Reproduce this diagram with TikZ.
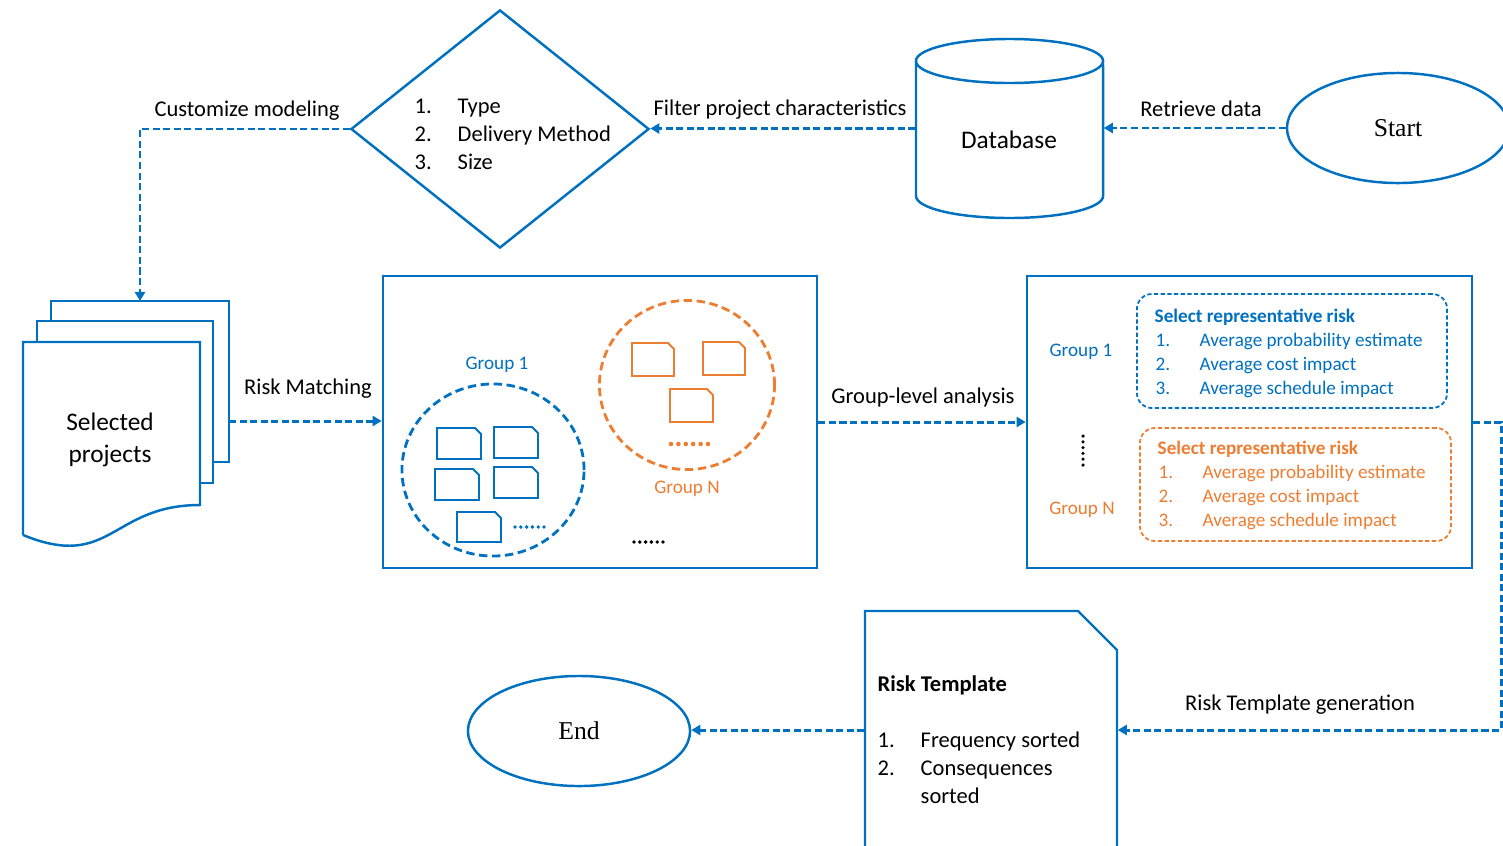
\documentclass[tikz,border=0pt]{standalone}
\usepackage{fontspec}
\setmainfont{Carlito}
\newfontfamily\timesfont{Liberation Serif}
\usetikzlibrary{shapes.geometric,arrows.meta}
\definecolor{flowblue}{HTML}{0070C0}
\definecolor{floworange}{HTML}{ED7D31}
\newcommand\fmain{\fontsize{6.4}{7.97}\selectfont}
\newcommand\fsmall{\fontsize{5.45}{6.83}\selectfont}
\newcommand\fbig{\fontsize{7.2}{9.1}\selectfont}
\newcommand\fterm{\timesfont\fontsize{7.3}{8.5}\selectfont}
\tikzset{
  outline/.style={draw=flowblue, line width=0.7pt},
  conn/.style={draw=flowblue, line width=0.85pt, dash pattern=on 2pt off 1pt,
               -{Triangle[length=2.6pt,width=2.9pt]}},
  lbl/.style={inner sep=0pt, anchor=base, font=\fmain},
  item/.style={inner sep=0pt, anchor=base west},
  grp/.style={inner sep=0pt, font=\fsmall},
  pics/snipdoc/.style 2 args={code={
    \draw[line width=0.55pt] (0,0) -- ({#1-6},0) -- (#1,6) -- (#1,#2) -- (0,#2) -- cycle;}},
}
\begin{document}
\begin{tikzpicture}[x=0.01cm, y=-0.01cm]
\useasboundingbox (0,0) rectangle (1503,845);
\clip (0,0) rectangle (1503,845);

% ---------- top row: start, database, filter diamond ----------
\node[ellipse, outline, minimum width=2.22cm, minimum height=1.10cm, inner sep=0pt,
      font=\fterm] (start) at (1398,128) {Start};

\node[minimum width=1.87cm, minimum height=1.79cm, inner sep=0pt] (db) at (1009.5,128.5) {};
\draw[outline] (916,61) -- (916,196)
   arc[start angle=180, end angle=360, x radius=0.935cm, y radius=0.22cm] -- (1103,61);
\draw[outline] (1009.5,61) ellipse[x radius=0.935cm, y radius=0.22cm];
\node[inner sep=0pt, font=\fbig] (dbtxt) at (1009,140) {Database};

\node[diamond, outline, minimum width=2.98cm, minimum height=2.38cm, inner sep=0pt]
      (dia) at (500,129) {};
\begin{scope}[font=\fmain]
  \node[item] (d1n) at (414,113) {1.};  \node[item] (d1t) at (457,113) {Type};
  \node[item] (d2n) at (414,141) {2.};  \node[item] (d2t) at (457,141) {Delivery Method};
  \node[item] (d3n) at (414,169) {3.};  \node[item] (d3t) at (457,169) {Size};
\end{scope}

% ---------- selected projects (stacked documents) ----------
\draw[outline, fill=white] (51,301) rectangle (229,462);
\draw[outline, fill=white] (37,321) rectangle (213,483);
\draw[outline, fill=white] (23,535) -- (23,342) -- (200,342) -- (200,505)
   .. controls (111,505) and (111,571) .. (23,535);
\node[inner sep=0pt, align=center, font=\fbig] (selp) at (110,440) {Selected\\projects};
\coordinate (docs-top) at (140,301);
\coordinate (docs-right) at (229,421);

% ---------- risk matching box ----------
\node[outline, minimum width=4.34cm, minimum height=2.92cm, inner sep=0pt] (mid) at (600,422) {};
\node[ellipse, draw=flowblue, line width=0.8pt, dash pattern=on 2.4pt off 1.3pt,
      minimum width=1.82cm, minimum height=1.72cm, inner sep=0pt] (g1) at (493,470) {};
\node[grp, text=flowblue] (g1lbl) at (497,365) {Group 1};
\begin{scope}[flowblue]
  \pic at (437,428) {snipdoc={44}{31}};
  \pic at (494,427) {snipdoc={44}{31}};
  \pic at (435,469) {snipdoc={44}{31}};
  \pic at (494,467) {snipdoc={44}{31}};
  \pic at (457,512) {snipdoc={44}{30}};
  \foreach \i in {0,...,5} \fill (515+5.8*\i,527) circle[radius=0.55pt];
\end{scope}

\node[ellipse, draw=floworange, line width=0.8pt, dash pattern=on 2.4pt off 1.3pt,
      minimum width=1.75cm, minimum height=1.69cm, inner sep=0pt] (gn) at (687,385) {};
\begin{scope}[floworange]
  \pic at (632,343) {snipdoc={42}{33}};
  \pic at (703,342) {snipdoc={42}{33}};
  \pic at (670,389) {snipdoc={43}{33}};
  \foreach \i in {0,...,5} \fill (671+7.4*\i,444) circle[radius=0.65pt];
\end{scope}
\node[grp, text=floworange] (gnlbl) at (687,489) {Group N};
\foreach \i in {0,...,5} \fill (634+5.8*\i,542) circle[radius=0.55pt];

% ---------- group-level analysis box ----------
\node[outline, minimum width=4.45cm, minimum height=2.92cm, inner sep=0pt] (right) at (1249.5,422) {};
\node[grp, text=flowblue] (rg1) at (1081,352) {Group 1};
\node[grp, text=floworange] (rgn) at (1082,510) {Group N};
\foreach \i in {0,...,5} \fill (1083,436+5.8*\i) circle[radius=0.5pt];

\node[draw=flowblue, line width=0.5pt, dash pattern=on 1.2pt off 0.7pt, rounded corners=0.15cm,
      minimum width=3.10cm, minimum height=1.14cm, inner sep=0pt] (rep1) at (1292,351) {};
\begin{scope}[font=\fsmall, text=flowblue]
  \node[item, font=\fsmall\bfseries] (r1h) at (1154,322) {Select representative risk};
  \node[item] (r11n) at (1155,346) {1.}; \node[item] (r11t) at (1199,346) {Average probability estimate};
  \node[item] (r12n) at (1155,370) {2.}; \node[item] (r12t) at (1199,370) {Average cost impact};
  \node[item] (r13n) at (1155,394) {3.}; \node[item] (r13t) at (1199,394) {Average schedule impact};
\end{scope}

\node[draw=floworange, line width=0.5pt, dash pattern=on 1.2pt off 0.7pt, rounded corners=0.15cm,
      minimum width=3.11cm, minimum height=1.13cm, inner sep=0pt] (repn) at (1295.5,484.5) {};
\begin{scope}[font=\fsmall, text=floworange]
  \node[item, font=\fsmall\bfseries] (rnh) at (1157,454) {Select representative risk};
  \node[item] (rn1n) at (1158,478) {1.}; \node[item] (rn1t) at (1202,478) {Average probability estimate};
  \node[item] (rn2n) at (1158,502) {2.}; \node[item] (rn2t) at (1202,502) {Average cost impact};
  \node[item] (rn3n) at (1158,526) {3.}; \node[item] (rn3t) at (1202,526) {Average schedule impact};
\end{scope}

% ---------- risk template and end ----------
\node[minimum width=2.52cm, minimum height=2.39cm, inner sep=0pt] (rt) at (991,730) {};
\draw[outline] (865,860) -- (865,611) -- (1078,611) -- (1117,650) -- (1117,860);
\begin{scope}[font=\fmain]
  \node[item, font=\fmain\bfseries] (rth) at (877,691) {Risk Template};
  \node[item] (rt1n) at (877,747) {1.}; \node[item] (rt1t) at (920,747) {Frequency sorted};
  \node[item] (rt2n) at (877,775) {2.}; \node[item] (rt2t) at (920,775) {Consequences};
  \node[item] (rt2u) at (920,803) {sorted};
\end{scope}

\node[ellipse, outline, minimum width=2.22cm, minimum height=1.10cm, inner sep=0pt,
      font=\fterm] (endn) at (579,731) {End};

% ---------- connectors ----------
\coordinate (turn) at (1501,422);
\draw[conn] (start.west) -- (start.west -| db.east);
\draw[conn] (db.west) -- (db.west -| dia.east);
\draw[conn] (dia.west) -| (docs-top);
\draw[conn] (docs-right) -- (docs-right -| mid.west);
\draw[conn] (mid.east) -- (right.west);
\draw[conn] (right.east) -- (turn) |- (rt.east);
\draw[conn] (rt.west) -- (rt.west -| endn.east);

% ---------- connector labels ----------
\node[lbl] (l1) at (1201,116) {Retrieve data};
\node[lbl] (l2) at (780,115) {Filter project characteristics};
\node[lbl] (l3) at (247,116) {Customize modeling};
\node[lbl] (l4) at (308,394) {Risk Matching};
\node[lbl] (l5) at (923,403) {Group-level analysis};
\node[lbl] (l6) at (1300,710) {Risk Template generation};
\end{tikzpicture}
\end{document}
